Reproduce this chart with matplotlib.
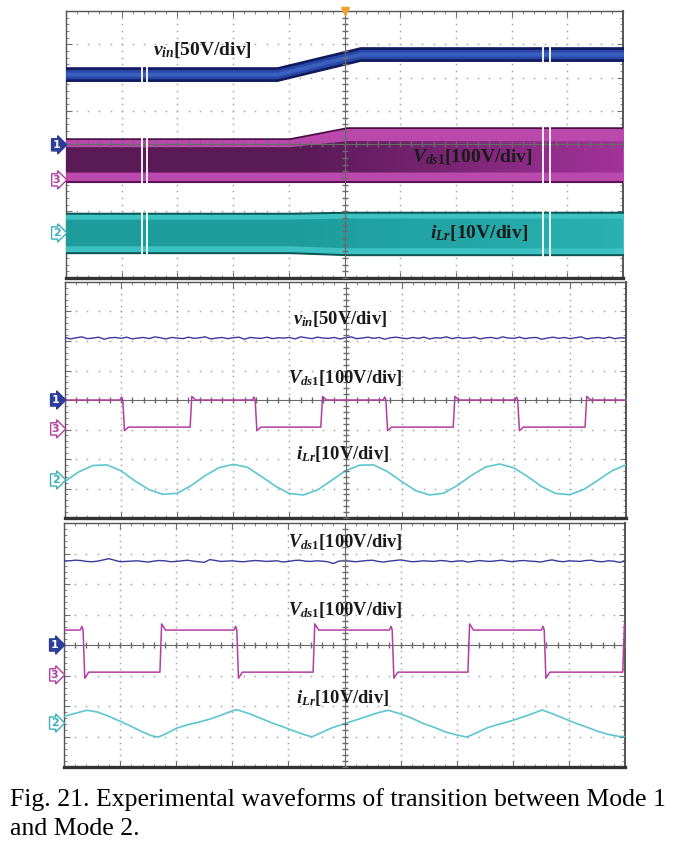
import numpy as np
import matplotlib.pyplot as plt
from matplotlib.colors import to_rgb

plt.rcParams['mathtext.fontset'] = 'custom'
plt.rcParams['mathtext.it'] = 'Liberation Serif:italic:bold'
plt.rcParams['mathtext.rm'] = 'Liberation Serif:bold'
plt.rcParams['mathtext.bf'] = 'Liberation Serif:bold'

# all values in screen divisions (x: 0..10, y: 0..8 from the bottom)

# panel 1 - slow transition, envelope of each trace
p1_x = [0.0, 3.79, 5.28, 10.0]
p1_vin = [6.11, 6.11, 6.71, 6.71]
p1_vds_x = [0.0, 4.02, 5.05, 10.0]
p1_vds_top = [4.16, 4.16, 4.49, 4.49]
p1_vds_in_top = [3.92, 3.92, 4.10, 4.10]
p1_vds_in_bot = [3.16, 3.16, 3.16, 3.16]
p1_vds_bot = [2.88, 2.88, 2.88, 2.88]
p1_ilr_top = [1.95, 1.95, 1.98, 1.98]
p1_ilr_bot = [0.75, 0.75, 0.69, 0.69]

# panel 2 - mode 1
p2_vin_level = 6.10
p2_vin_ripple = [2, -3, 1, 4, -2, 0, 3, -4, 1, 2, -1, 3, -3, 0, 2, -2, 4, 1, -3, 2,
                 0, -2, 3, -1, 1, 4, -3, 0, 2, -2, 1, 3, -4, 2, 0, -1, 3, -2, 1, 0,
                 2, -3, 4, 1, -2, 3, 0, -1, 2, -3, 1, 4, -2, 0, 3, -1, 2, -4, 1, 3,
                 0, -2, 2, -1, 3, -3, 1, 0, 4, -2, 2, -1, 0, 3, -3, 1, 2, -2, 4, 0,
                 -1, 3, -2, 1, 2, -4, 0, 3, -1, 2, -2, 1, 4, -3, 0, 2, -1, 3, -2, 1, 0]
p2_vds_edges = [1.03, 2.23, 3.39, 4.56, 5.72, 6.92, 8.07, 9.27]
p2_vds_high, p2_vds_low = 4.00, 3.08
p2_ilr_x = [0.0, 0.25, 0.5, 0.75, 1.0, 1.25, 1.5, 1.75, 2.0, 2.25, 2.5, 2.75, 3.0, 3.25,
            3.5, 3.75, 4.0, 4.25, 4.5, 4.75, 5.0, 5.25, 5.5, 5.75, 6.0, 6.25, 6.5, 6.75,
            7.0, 7.25, 7.5, 7.75, 8.0, 8.25, 8.5, 8.75, 9.0, 9.25, 9.5, 9.75, 10.0]
p2_ilr = [1.24, 1.57, 1.78, 1.80, 1.60, 1.25, 0.96, 0.80, 0.84, 1.10, 1.44, 1.71, 1.82, 1.72,
          1.41, 1.08, 0.83, 0.78, 0.95, 1.27, 1.60, 1.79, 1.80, 1.57, 1.24, 0.93, 0.78, 0.84,
          1.11, 1.45, 1.73, 1.83, 1.70, 1.40, 1.06, 0.83, 0.79, 0.97, 1.28, 1.60, 1.80]

# panel 3 - mode 2
p3_vin_level = 6.75
p3_vin_ripple = [0, 1, 3, 2, -1, -2, 0, 4, 8, 3, -2, -1, 0, 1, -1, -3, 0, 2, 1, -2,
                 -1, 1, 3, 0, -2, -4, 5, 2, -1, 0, 1, -1, -2, 0, 2, 1, -1, 0, 1, -3,
                 -1, 2, 3, 0, -1, 1, 0, -2, -8, 0, 1, 0, -2, 0, 2, 3, -1, -3, 0, 2,
                 4, 1, -2, -1, 1, 0, -1, 2, 1, -2, 0, 1, -3, -1, 2, 0, -1, 1, 3, 0,
                 -2, 1, 2, 0, -1, -3, 1, 4, 0, -2, 1, 0, -1, 2, 3, -1, -2, 1, 0, -4, 0]
p3_vds_edges = [0.34, 1.71, 3.08, 4.44, 5.85, 7.20, 8.56, 9.96]
p3_vds_high, p3_vds_low = 4.49, 3.11
p3_ilr_x = [0.0, 0.2, 0.41, 0.6, 0.8, 1.0, 1.2, 1.4, 1.55, 1.68, 1.85, 2.0, 2.2, 2.4, 2.6,
            2.8, 3.0, 3.08, 3.3, 3.5, 3.7, 3.9, 4.1, 4.3, 4.42, 4.6, 4.8, 5.0, 5.2, 5.4,
            5.6, 5.78, 6.0, 6.2, 6.4, 6.6, 6.8, 7.0, 7.18, 7.35, 7.55, 7.75, 7.95, 8.15,
            8.35, 8.52, 8.7, 8.9, 9.1, 9.3, 9.5, 9.7, 9.9, 10.0]
p3_ilr = [1.66, 1.76, 1.86, 1.80, 1.66, 1.50, 1.33, 1.15, 1.03, 0.98, 1.12, 1.27, 1.38, 1.47,
          1.57, 1.70, 1.84, 1.88, 1.75, 1.60, 1.45, 1.32, 1.18, 1.05, 0.99, 1.14, 1.30, 1.42,
          1.54, 1.66, 1.78, 1.86, 1.74, 1.60, 1.43, 1.30, 1.15, 1.05, 0.98, 1.12, 1.29, 1.40,
          1.50, 1.62, 1.75, 1.87, 1.75, 1.60, 1.45, 1.32, 1.18, 1.07, 1.00, 1.00]

BLUE = '#3a3a9e'
MAGENTA = '#b23ea4'
CYAN = '#5cc6d0'

VIN = r'$v_{in}$'
VDS = r'$V_{\mathit{ds1}}$'
ILR = r'$i_{Lr}$'


def scope_grid(ax):
    ax.set_xlim(0, 10)
    ax.set_ylim(0, 8)
    xm = np.arange(0, 10.01, 0.2)
    ym = np.arange(0, 8.01, 0.2)
    for gx in range(1, 10):
        if gx != 5:
            ax.plot([gx] * len(ym), ym, ls='none', marker='s', ms=1.1,
                    color='#a8a8a8', mew=0, zorder=1)
    for gy in range(1, 8):
        if gy != 4:
            ax.plot(xm, [gy] * len(xm), ls='none', marker='s', ms=1.1,
                    color='#a8a8a8', mew=0, zorder=1)
    ax.axhline(4, color='#6a6a6a', lw=0.8, zorder=6)
    ax.axvline(5, color='#6a6a6a', lw=0.8, zorder=6)
    ax.plot(xm, [4] * len(xm), ls='none', marker='|', ms=4, color='#6a6a6a', zorder=6)
    ax.plot([5] * len(ym), ym, ls='none', marker='_', ms=4, color='#6a6a6a', zorder=6)
    ax.set_xticks(range(11))
    ax.set_yticks(range(9))
    ax.set_xticks(xm, minor=True)
    ax.set_yticks(ym, minor=True)
    ax.tick_params(which='both', direction='in', top=True, right=True, color='#707070',
                   labelbottom=False, labelleft=False)
    ax.tick_params(which='major', length=4)
    ax.tick_params(which='minor', length=2.5)
    for s in ax.spines.values():
        s.set_color('#555555')
        s.set_linewidth(1.0)
    ax.spines['bottom'].set_linewidth(2.4)
    ax.spines['bottom'].set_color('#333333')
    ax.spines['right'].set_linewidth(1.4)


def chan_tag(ax, y, txt, color, filled):
    ax.text(-0.1, y, txt, ha='right', va='center', fontsize=8, fontweight='bold',
            color='white' if filled else color, clip_on=False, zorder=10,
            bbox=dict(boxstyle='rarrow,pad=0.1', fc=color if filled else 'white',
                      ec=color, lw=1.0))


def label(ax, x, y, sym, scale, size=14):
    ax.text(x, y, sym + '[' + scale + ']', ha='left', va='center', fontsize=size,
            fontweight='bold', family='Liberation Serif', color='#1a1a1a', zorder=12)


def square(edges, hi, lo, over, pre):
    xs, ys = [0.0], [hi]
    level = hi
    for e in edges:
        new = lo if level == hi else hi
        if new == lo:
            xs += [e - 0.05, e - 0.02, e, e + 0.03, e + 0.1]
            ys += [hi, hi + pre, hi, lo - over, lo]
        else:
            xs += [e, e + 0.03, e + 0.1]
            ys += [lo, hi + over, hi]
        level = new
    xs.append(10.0)
    ys.append(level)
    return xs, ys


def gradient_fill(ax, x, lo, hi, c0, c1, x0, x1, z):
    poly = ax.fill_between(x, lo, hi, color='none', zorder=z)
    n = 200
    a = np.clip((np.linspace(0, 10, n) - x0) / (x1 - x0), 0, 1)
    img = (1 - a)[:, None] * np.array(to_rgb(c0)) + a[:, None] * np.array(to_rgb(c1))
    im = ax.imshow(img[None, :, :], extent=[0, 10, 0, 8], aspect='auto', zorder=z)
    im.set_clip_path(poly.get_paths()[0], transform=ax.transData)


fig = plt.figure(figsize=(6.82, 8.51), dpi=100)
W, H = 682, 851
ax1 = fig.add_axes([66 / W, 1 - 278 / H, 557 / W, 267 / H])
ax2 = fig.add_axes([65 / W, 1 - 518 / H, 561 / W, 236 / H])
ax3 = fig.add_axes([64 / W, 1 - 767 / H, 561 / W, 244 / H])
for ax in (ax1, ax2, ax3):
    scope_grid(ax)

# ---- panel 1 ----
vin = np.array(p1_vin)
ax1.fill_between(p1_x, vin - 0.2, vin + 0.2, color='#101a5e', zorder=3)
ax1.fill_between(p1_x, vin - 0.12, vin + 0.12, color='#2a46a6', zorder=3)
ax1.fill_between(p1_x, vin - 0.04, vin + 0.04, color='#3a60c0', zorder=3)

ax1.fill_between(p1_vds_x, p1_vds_bot, p1_vds_top, color='#bb48ac', zorder=3)
gradient_fill(ax1, p1_vds_x, p1_vds_in_bot, p1_vds_in_top, '#5a1a56', '#a2339a', 4.3, 10.0, 4)
ax1.plot(p1_vds_x, p1_vds_top, color='#4e1048', lw=1.3, zorder=5)
ax1.plot(p1_vds_x, p1_vds_bot, color='#4e1048', lw=1.3, zorder=5)

ax1.fill_between(p1_vds_x, p1_ilr_bot, p1_ilr_top, color='#0e5656', zorder=3)
ilr_t, ilr_b = np.array(p1_ilr_top), np.array(p1_ilr_bot)
ax1.fill_between(p1_vds_x, ilr_b + 0.06, ilr_t - 0.06, color='#3cc2c2', zorder=3)
gradient_fill(ax1, p1_vds_x, ilr_b + 0.2, ilr_t - 0.2, '#1e9c9c', '#2ab0b0', 4.0, 10.0, 4)

for gx in (1.37, 1.45, 8.57, 8.69):
    ax1.vlines(gx, 0.6, 6.95, color='white', lw=1.3, zorder=7)

ax1.plot(5, 8, marker='v', color='#f2a228', ms=6, clip_on=False, zorder=11)

chan_tag(ax1, 3.99, '1', '#2c3e9a', True)
chan_tag(ax1, 2.94, '3', MAGENTA, False)
chan_tag(ax1, 1.35, '2', '#3ab0b8', False)

label(ax1, 1.56, 6.83, VIN, '50V/div')
label(ax1, 6.21, 3.63, VDS, '100V/div')
label(ax1, 6.53, 1.35, ILR, '10V/div')

# ---- panel 2 ----
x2 = np.linspace(0, 10, len(p2_vin_ripple))
ax2.plot(x2, p2_vin_level + np.array(p2_vin_ripple) / 100, color=BLUE, lw=1.0, zorder=4)
sx, sy = square(p2_vds_edges, p2_vds_high, p2_vds_low, 0.12, 0.1)
ax2.plot(sx, sy, color=MAGENTA, lw=1.1, zorder=7)
ax2.plot(p2_ilr_x, p2_ilr, color=CYAN, lw=1.2, zorder=4)

chan_tag(ax2, 4.0, '1', '#2c3e9a', True)
chan_tag(ax2, 3.02, '3', MAGENTA, False)
chan_tag(ax2, 1.29, '2', '#3ab0b8', False)

label(ax2, 4.06, 6.75, VIN, '50V/div', 13.3)
label(ax2, 3.98, 4.75, VDS, '100V/div', 13.3)
label(ax2, 4.12, 2.17, ILR, '10V/div', 13.3)

# ---- panel 3 ----
x3 = np.linspace(0, 10, len(p3_vin_ripple))
ax3.plot(x3, p3_vin_level + np.array(p3_vin_ripple) / 100, color=BLUE, lw=1.0, zorder=4)
sx, sy = square(p3_vds_edges, p3_vds_high, p3_vds_low, 0.2, 0.12)
ax3.plot(sx, sy, color=MAGENTA, lw=1.1, zorder=7)
ax3.plot(p3_ilr_x, p3_ilr, color=CYAN, lw=1.2, zorder=4)

chan_tag(ax3, 4.0, '1', '#2c3e9a', True)
chan_tag(ax3, 3.02, '3', MAGENTA, False)
chan_tag(ax3, 1.44, '2', '#3ab0b8', False)

label(ax3, 3.99, 7.38, VDS, '100V/div', 13.3)
label(ax3, 3.99, 5.15, VDS, '100V/div', 13.3)
label(ax3, 4.14, 2.26, ILR, '10V/div', 13.3)

fig.text(10 / W, 1 - 800 / H, 'Fig. 21. Experimental waveforms of transition between Mode 1',
         family='Liberation Serif', fontsize=18.5, va='center', ha='left')
fig.text(10 / W, 1 - 829 / H, 'and Mode 2.',
         family='Liberation Serif', fontsize=18.5, va='center', ha='left')

fig.savefig('out.png', dpi=100)
